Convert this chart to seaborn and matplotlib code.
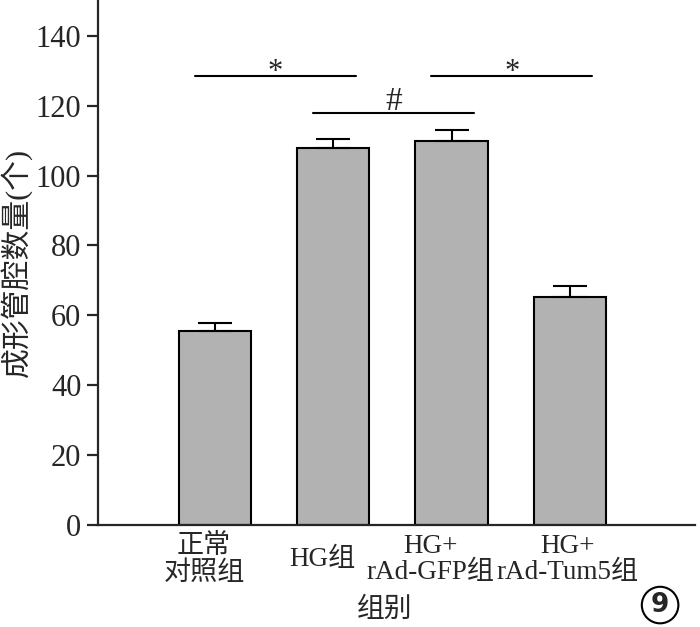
"""
Bar chart of tube formation counts per group, with error bars and significance marks.
"""

import pandas as pd
import seaborn as sns
import matplotlib.pyplot as plt
import matplotlib.transforms as mtransforms


groups = ["正常\n对照组", "HG组", "HG+\nrAd-GFP组", "HG+\nrAd-Tum5组"]
means = [55.5, 108.0, 110.0, 65.3]
errs = [2.3, 2.5, 3.1, 3.1]

# significance brackets: (left bar, right bar, height, mark)
sig_pairs = [(0, 1, 128.5, "*"), (1, 2, 117.9, "#"), (2, 3, 128.5, "*")]


def init_figure():
    sns.set_style("ticks")
    plt.rcParams["font.family"] = ["Liberation Serif", "Noto Sans CJK SC"]
    plt.rcParams["axes.linewidth"] = 1.6
    fig = plt.figure(figsize=(7, 6.27), dpi=100)
    ax = fig.add_axes([0.14, 0.163, 0.853, 0.837])
    return fig, ax


fig, ax = init_figure()

df = pd.DataFrame({"group": groups, "value": means})
sns.barplot(data=df, x="group", y="value", color="#b2b2b2", saturation=1,
            width=0.61, edgecolor="black", linewidth=1.5, errorbar=None, ax=ax)

ax.errorbar(range(len(groups)), means, yerr=[[0] * len(errs), errs],
            fmt="none", ecolor="black", elinewidth=1.5, capsize=12,
            capthick=1.5, zorder=1)

# significance lines
for left, right, h, mark in sig_pairs:
    ax.plot([left - 0.17, right + 0.19], [h, h], color="black", lw=1.5)
    if mark == "*":
        ax.text((left + right) / 2 + 0.01, h - 1.0, mark, ha="center",
                va="baseline", fontsize=22)
    else:
        ax.text((left + right) / 2 + 0.01, h + 0.8, mark, ha="center",
                va="baseline", fontsize=24)

ax.set_ylim(0, 150.3)
ax.set_xlim(-0.99, 4.06)
ax.set_yticks(range(0, 141, 20))
ax.tick_params(axis="y", direction="out", length=8, width=1.6, labelsize=22, pad=4)
ax.tick_params(axis="x", length=0, labelsize=19.5, pad=25)

# the reference labels sit a little left of the bar centres
shifts = [-11, -11, -21, -2]
for lab, dx in zip(ax.get_xticklabels(), shifts):
    lab.set_verticalalignment("center")
    lab.set_linespacing(1.1)
    off = mtransforms.ScaledTranslation(dx / 100, 0, fig.dpi_scale_trans)
    lab.set_transform(lab.get_transform() + off)

ax.set_xlabel("组别", fontsize=20)
ax.xaxis.set_label_coords(0.48, -0.139)
ax.set_ylabel("成形管腔数量(个)", fontsize=21.5)
ax.yaxis.set_label_coords(-0.11, 0.5)
sns.despine(ax=ax)

# figure number in a circle
fig.text(0.943, 0.035, "9", fontsize=19, fontweight="bold", ha="center", va="center",
         family="DejaVu Sans",
         bbox=dict(boxstyle="circle,pad=0.2", fc="white", ec="black", lw=1.5))

fig.savefig("out.png", dpi=100)
